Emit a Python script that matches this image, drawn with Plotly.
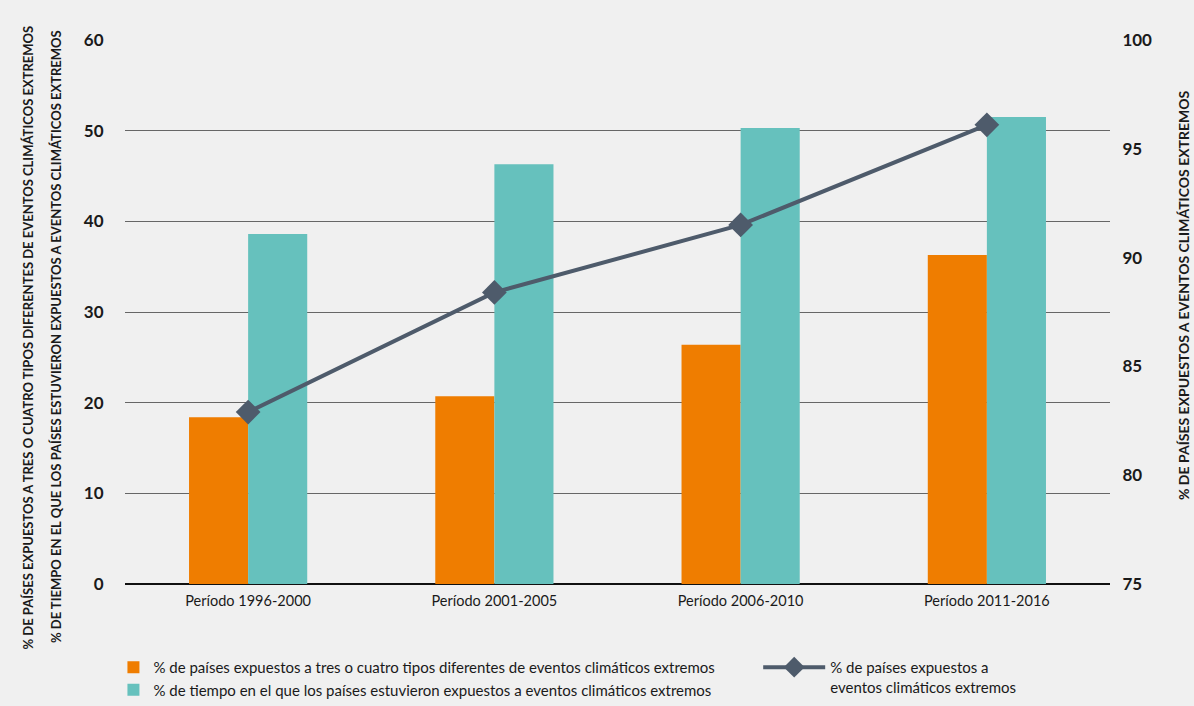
import plotly.graph_objects as go

categories = ["Período 1996-2000", "Período 2001-2005", "Período 2006-2010", "Período 2011-2016"]
tres_cuatro_tipos = [18.4, 20.7, 26.4, 36.3]
tiempo_expuesto = [38.6, 46.3, 50.3, 51.5]
paises_expuestos = [82.9, 88.4, 91.5, 96.1]

left_ticks = [0, 10, 20, 30, 40, 50, 60]
right_ticks = [75, 80, 85, 90, 95, 100]

FONT = "Lato, Liberation Sans, sans-serif"
BG = "#F0F0F0"
TXT = "#1a1a1a"

fig = go.Figure()
fig.add_trace(go.Bar(
    x=categories, y=tres_cuatro_tipos,
    name="% de países expuestos a tres o cuatro tipos diferentes de eventos climáticos extremos",
    marker=dict(color="#EF7D00", line=dict(width=0)),
    legend="legend", legendgroup="a",
))
fig.add_trace(go.Bar(
    x=categories, y=tiempo_expuesto,
    name="% de tiempo en el que los países estuvieron expuestos a eventos climáticos extremos",
    marker=dict(color="#66C1BD", line=dict(width=0)),
    legend="legend", legendgroup="b",
))
fig.add_trace(go.Scatter(
    x=categories, y=paises_expuestos, yaxis="y2", mode="lines+markers",
    name="% de países expuestos a<br>eventos climáticos extremos",
    line=dict(color="#4E5B6B", width=4),
    marker=dict(symbol="diamond", size=19, color="#4E5B6B"),
    legend="legend2",
))

fig.update_layout(
    width=1194, height=706,
    paper_bgcolor=BG, plot_bgcolor=BG,
    font=dict(family=FONT, color=TXT, size=14),
    margin=dict(l=125, r=84, t=40, b=122, autoexpand=False),
    barmode="group", bargap=0.52, bargroupgap=0,
    showlegend=True,
    xaxis=dict(
        showgrid=False, showline=False, zeroline=False, ticks="outside", ticklen=4, tickcolor=BG,
        tickfont=dict(size=14.5, family=FONT, color=TXT),
    ),
    yaxis=dict(
        range=[0, 60], tickvals=left_ticks, showgrid=True, gridcolor="#666666", gridwidth=1,
        zeroline=True, zerolinecolor="#111111", zerolinewidth=2,
        ticks="outside", ticklen=17, tickcolor=BG,
        tickfont=dict(size=17, family=FONT, color=TXT, weight="bold"),
    ),
    yaxis2=dict(
        range=[75, 100], tickvals=right_ticks, overlaying="y", side="right",
        showgrid=False, zeroline=False, ticks="outside", ticklen=8, tickcolor=BG,
        tickfont=dict(size=17, family=FONT, color=TXT, weight="bold"),
    ),
    legend=dict(
        xref="container", yref="container", x=0.095, y=0.078, xanchor="left", yanchor="top",
        bgcolor="rgba(0,0,0,0)", font=dict(size=15, family=FONT, color=TXT),
        tracegroupgap=25, traceorder="normal",
    ),
    legend2=dict(
        xref="container", yref="container", x=0.635, y=0.078, xanchor="left", yanchor="top",
        bgcolor="rgba(0,0,0,0)", font=dict(size=15, family=FONT, color=TXT),
        itemwidth=62, valign="top",
    ),
    annotations=[
        dict(text="% DE PAÍSES EXPUESTOS A TRES O CUATRO TIPOS DIFERENTES DE EVENTOS CLIMÁTICOS EXTREMOS",
             xref="paper", yref="paper", x=-0.098, y=0.454, xanchor="center", yanchor="middle",
             textangle=-90, showarrow=False, font=dict(size=13, family=FONT, color=TXT, weight="bold")),
        dict(text="% DE TIEMPO EN EL QUE LOS PAÍSES ESTUVIERON EXPUESTOS A EVENTOS CLIMÁTICOS EXTREMOS",
             xref="paper", yref="paper", x=-0.07, y=0.454, xanchor="center", yanchor="middle",
             textangle=-90, showarrow=False, font=dict(size=13, family=FONT, color=TXT, weight="bold")),
        dict(text="% DE PAÍSES EXPUESTOS A EVENTOS CLIMÁTICOS EXTREMOS",
             xref="paper", yref="paper", x=1.074, y=0.531, xanchor="center", yanchor="middle",
             textangle=-90, showarrow=False, font=dict(size=14, family=FONT, color=TXT, weight="bold")),
    ],
)

fig.write_html("out.html", config={"displayModeBar": False},
               post_script="document.body.style.margin='0';document.body.style.background='#F0F0F0';")
